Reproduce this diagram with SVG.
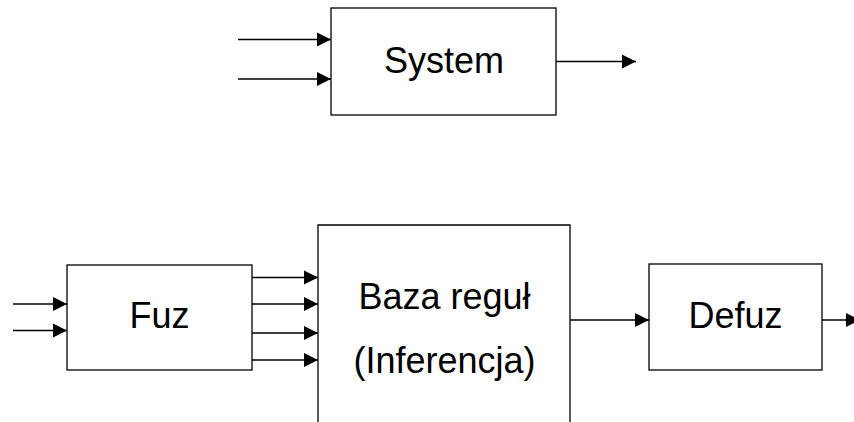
<svg xmlns="http://www.w3.org/2000/svg" width="854" height="422" viewBox="0 0 854 422">
<style>
.box{fill:#fff;stroke:#000;stroke-width:1.3}
.ln{fill:none;stroke:#000;stroke-width:1.3;marker-end:url(#ah)}
.t{font-family:"Liberation Sans",Arial,sans-serif;font-size:36px;fill:#000;text-anchor:middle}
</style>
<defs>
<marker id="ah" markerUnits="userSpaceOnUse" markerWidth="15" markerHeight="15" viewBox="0 0 15 15" refX="14" refY="7.5" orient="auto">
<path d="M0,0.5 L14,7.5 L0,14.5 Z" fill="#000"/>
</marker>
</defs>
<rect width="854" height="422" fill="#fff"/>
<g id="system">
<rect class="box" x="331" y="8" width="225" height="107"/>
<text class="t" x="444" y="73">System</text>
</g>
<g id="fuz">
<rect class="box" x="67" y="265" width="185" height="105"/>
<text class="t" x="159.5" y="327.5">Fuz</text>
</g>
<g id="baza">
<path class="box" d="M318,430 L318,225 L570,225 L570,430"/>
<text class="t" x="444.5" y="308.5">Baza reguł</text>
<text class="t" x="444.5" y="372.5">(Inferencja)</text>
</g>
<g id="defuz">
<rect class="box" x="649" y="264" width="173" height="106"/>
<text class="t" x="735.5" y="328">Defuz</text>
</g>
<g id="connectors">
<line class="ln" x1="238" y1="39.5" x2="331" y2="39.5"/>
<line class="ln" x1="238" y1="79" x2="331" y2="79"/>
<line class="ln" x1="556" y1="61.5" x2="636" y2="61.5"/>
<line class="ln" x1="13" y1="304" x2="67" y2="304"/>
<line class="ln" x1="13" y1="330.5" x2="67" y2="330.5"/>
<line class="ln" x1="252" y1="277.5" x2="318" y2="277.5"/>
<line class="ln" x1="252" y1="304" x2="318" y2="304"/>
<line class="ln" x1="252" y1="333" x2="318" y2="333"/>
<line class="ln" x1="252" y1="360" x2="318" y2="360"/>
<line class="ln" x1="570" y1="320" x2="649" y2="320"/>
<line class="ln" x1="822" y1="320" x2="860" y2="320"/>
</g>
</svg>
